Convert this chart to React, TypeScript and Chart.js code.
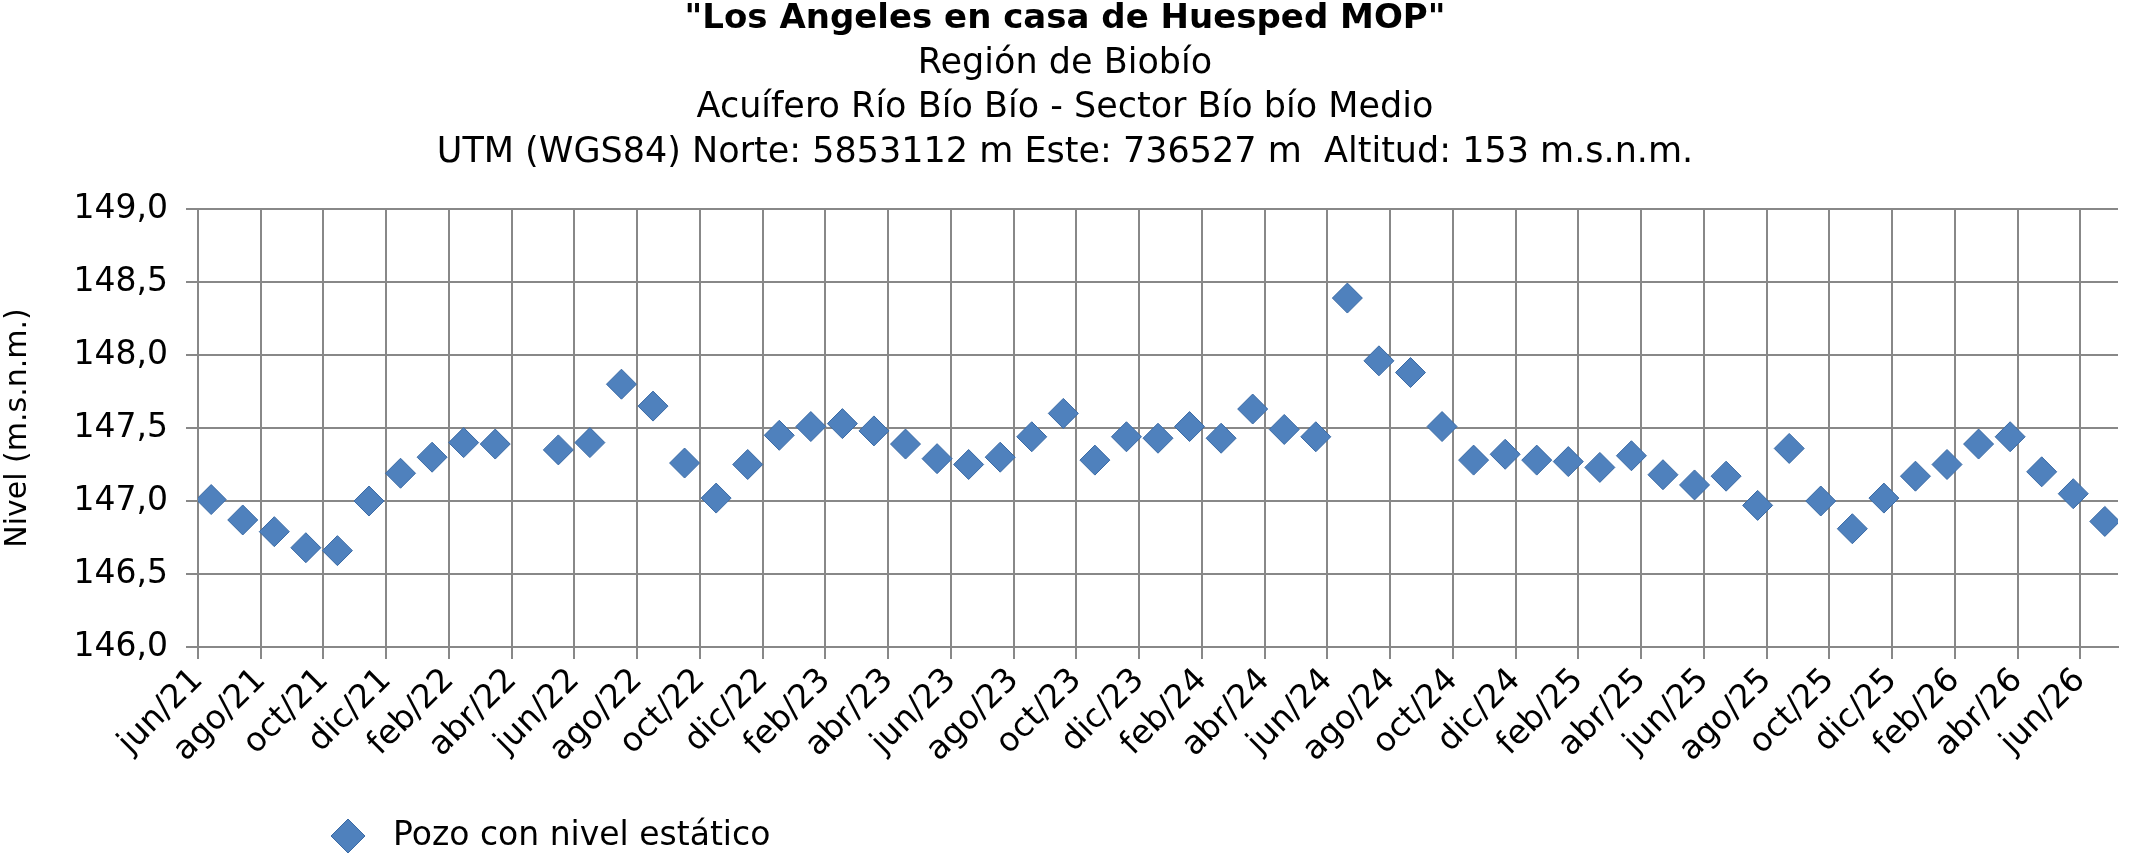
import React, { useEffect, useRef } from "react";
import { Chart, registerables } from "chart.js";
Chart.register(...registerables);

const monthNames = ["ene", "feb", "mar", "abr", "may", "jun", "jul", "ago", "sep", "oct", "nov", "dic"];
// month offset from jun/21 (index) of each measurement
const monthIndex = [0, 1, 2, 3, 4, 5, 6, 7, 8, 9, 11, 12, 13, 14, 15, 16, 17, 18, 19, 20, 21, 22, 23, 24, 25, 26, 27, 28, 29, 30, 31, 32, 33, 34, 35, 36, 37, 38, 39, 40, 41, 42, 43, 44, 45, 46, 47, 48, 49, 50, 51, 52, 53, 54, 55, 56, 57, 58, 59, 60];
const levels = [147.01, 146.87, 146.79, 146.68, 146.66, 147.0, 147.19, 147.3, 147.4, 147.39, 147.35, 147.4, 147.8, 147.65, 147.26, 147.02, 147.25, 147.45, 147.51, 147.53, 147.48, 147.39, 147.29, 147.25, 147.3, 147.44, 147.6, 147.28, 147.44, 147.43, 147.51, 147.43, 147.63, 147.49, 147.44, 148.39, 147.96, 147.88, 147.51, 147.28, 147.32, 147.28, 147.27, 147.23, 147.31, 147.18, 147.11, 147.17, 146.97, 147.36, 147.0, 146.81, 147.02, 147.17, 147.25, 147.39, 147.44, 147.2, 147.05, 146.86];
const titleLines = ['"Los Angeles en casa de Huesped MOP"', "Región de Biobío", "Acuífero Río Bío Bío - Sector Bío bío Medio", "UTM (WGS84) Norte: 5853112 m Este: 736527 m  Altitud: 153 m.s.n.m."];
const seriesLabel = "Pozo con nivel estático";

const FONT = "Verdana, 'DejaVu Sans', sans-serif";
const COLOR = "#4F81BD";

function tickLabel(v: number) {
  const m = (5 + v) % 12;
  const y = 21 + Math.floor((5 + v) / 12);
  return monthNames[m] + "/" + y;
}

export default function App() {
  const ref = useRef<HTMLCanvasElement>(null);
  useEffect(() => {
    document.body.style.margin = "0";
    const decor = {
      id: "decor",
      afterDraw(chart: any) {
        const ctx = chart.ctx;
        ctx.save();
        ctx.fillStyle = "#000";
        ctx.textAlign = "center";
        ctx.textBaseline = "middle";
        const cx = 1065;
        const ys = [19, 64, 108, 153];
        titleLines.forEach((t, i) => {
          ctx.font = (i === 0 ? "bold 34px " : "35px ") + FONT;
          ctx.fillText(t, cx, ys[i]);
        });
        // legend
        const lx = 348, ly = 836, r = 17;
        ctx.fillStyle = COLOR;
        ctx.strokeStyle = "#3A6AA5";
        ctx.lineWidth = 1;
        ctx.beginPath();
        ctx.moveTo(lx, ly - r); ctx.lineTo(lx + r, ly); ctx.lineTo(lx, ly + r); ctx.lineTo(lx - r, ly); ctx.closePath();
        ctx.fill(); ctx.stroke();
        ctx.fillStyle = "#000";
        ctx.textAlign = "left";
        ctx.font = "33px " + FONT;
        ctx.fillText(seriesLabel, 393, ly);
        ctx.restore();
      },
    };
    const chart = new Chart(ref.current!, {
      type: "scatter",
      data: {
        datasets: [{
          label: seriesLabel,
          data: monthIndex.map((m, i) => ({ x: m + 0.42 + m * 0.006, y: levels[i] })),
          pointStyle: "rectRot",
          pointRadius: 15,
          backgroundColor: COLOR,
          borderColor: "#3A6AA5",
          borderWidth: 1,
        }],
      },
      options: {
        animation: false,
        responsive: false,
        layout: { padding: { top: 209, bottom: 70, right: 4, left: 0 } },
        plugins: { legend: { display: false }, tooltip: { enabled: false } },
        scales: {
          x: {
            type: "linear", min: 0, max: 61.2,
            afterBuildTicks: (s: any) => { s.ticks = Array.from({ length: 31 }, (_, i) => ({ value: i * 2 })); },
            afterFit: (s: any) => { s.height = 145; },
            grid: { color: "#888", lineWidth: 2, tickLength: 12 },
            border: { color: "#888", width: 2 },
            ticks: { maxRotation: 45, minRotation: 45, autoSkip: false, color: "#000", padding: 2, font: { family: FONT, size: 33 }, callback: (v: any) => tickLabel(Number(v)) },
          },
          y: {
            min: 146, max: 149,
            afterFit: (s: any) => { s.width = 198; },
            grid: { color: "#888", lineWidth: 2, tickLength: 12 },
            border: { color: "#888", width: 2 },
            ticks: { stepSize: 0.5, color: "#000", padding: 18, font: { family: FONT, size: 33 }, callback: (v: any) => Number(v).toFixed(1).replace(".", ",") },
            title: { display: true, text: "Nivel (m.s.n.m.)", color: "#000", font: { family: FONT, size: 30 }, padding: 0 },
          },
        },
      },
      plugins: [decor],
    } as any);
    return () => chart.destroy();
  }, []);
  return <canvas ref={ref} width={2134} height={862} style={{ display: "block" }} />;
}
